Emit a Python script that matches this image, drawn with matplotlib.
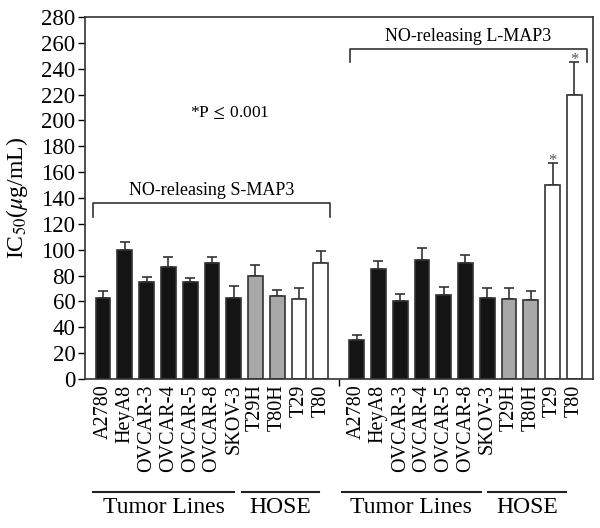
import numpy as np
import matplotlib
matplotlib.use("Agg")
import matplotlib.pyplot as plt

plt.rcParams['font.family'] = ['Liberation Serif', 'DejaVu Serif']
plt.rcParams['mathtext.fontset'] = 'stix'

cells = ['A2780', 'HeyA8', 'OVCAR-3', 'OVCAR-4', 'OVCAR-5', 'OVCAR-8', 'SKOV-3',
         'T29H', 'T80H', 'T29', 'T80']
kinds = ['tumor'] * 7 + ['hoseH'] * 2 + ['hose'] * 2

# S-MAP3
s_vals = [63, 100, 75, 87, 75, 90, 63, 80, 64, 62, 90]
s_err = [5, 6, 4, 7, 3, 4, 9, 8, 5, 8, 9]
# L-MAP3
l_vals = [30, 85, 60, 92, 65, 90, 63, 62, 61, 150, 220]
l_err = [4, 6, 6, 9, 6, 6, 7, 8, 7, 17, 25]
sig = [False] * 9 + [True, True]

colors = {'tumor': '#141414', 'hoseH': '#a8a8a8', 'hose': 'white'}

gap = 11.65
x1 = np.arange(len(cells))
x2 = x1 + gap
width = 0.68

fig = plt.figure(figsize=(6, 5.28), dpi=100)
ax = fig.add_axes([0.1417, 0.2822, 0.8463, 0.6856])

for xs, vals, errs in [(x1, s_vals, s_err), (x2, l_vals, l_err)]:
    ax.bar(xs, vals, width, color=[colors[k] for k in kinds],
           edgecolor='#333333', linewidth=1.2, zorder=2)
    ax.errorbar(xs, vals, yerr=[np.zeros(len(errs)), errs], fmt='none',
                ecolor='#333333', elinewidth=1.2, capsize=3.5, capthick=1.2, zorder=1)

for xi, v, e, s in zip(x2, l_vals, l_err, sig):
    if s:
        ax.text(xi, v + e + 2, '*', ha='center', va='center', fontsize=12, color='#555555')

ax.set_xlim(-0.83, 22.5)
ax.set_ylim(0, 280)
ax.set_yticks(np.arange(0, 281, 20))
ax.tick_params(axis='y', labelsize=16.5, length=5, width=1, direction='out', pad=2)
ax.set_ylabel(r'IC$_{50}$($\mu$g/mL)', fontsize=17, labelpad=0)
ax.yaxis.set_label_coords(-0.108, 0.5)

ax.set_xticks(np.concatenate([x1, x2]))
ax.set_xticklabels(cells + cells, rotation=90, fontsize=14.5)
ax.tick_params(axis='x', length=0, pad=4)
ax.set_xticks([(x1[-1] + x2[0]) / 2], minor=True)
ax.tick_params(axis='x', which='minor', length=5, width=1, direction='out')

for sp in ax.spines.values():
    sp.set_linewidth(1.2)
    sp.set_color('#333333')

# brackets
def bracket(x0, x1_, y, drop, label):
    ax.plot([x0, x0, x1_, x1_], [y - drop, y, y, y - drop], color='#333333', lw=1.2)
    ax.text((x0 + x1_) / 2, y + 3, label, ha='center', va='bottom', fontsize=13)

bracket(-0.47, 10.44, 136, 11, 'NO-releasing S-MAP3')
bracket(11.33, 22.24, 255, 10, 'NO-releasing L-MAP3')

ax.text(5.8, 206, r'*P$\,\leq\,$0.001', ha='center', va='center', fontsize=12.5)

# group labels under the axis
tr = ax.get_xaxis_transform()
groups = [(-0.46, 6.02, 'Tumor Lines'), (6.39, 9.93, 'HOSE'),
          (10.96, 17.35, 'Tumor Lines'), (17.67, 21.26, 'HOSE')]
for a, b, lab in groups:
    ax.plot([a, b], [-0.312, -0.312], transform=tr, color='#222222', lw=1.5, clip_on=False)
    ax.text((a + b) / 2, -0.327, lab, transform=tr, ha='center', va='top', fontsize=17)

fig.savefig('out.png', dpi=100)
